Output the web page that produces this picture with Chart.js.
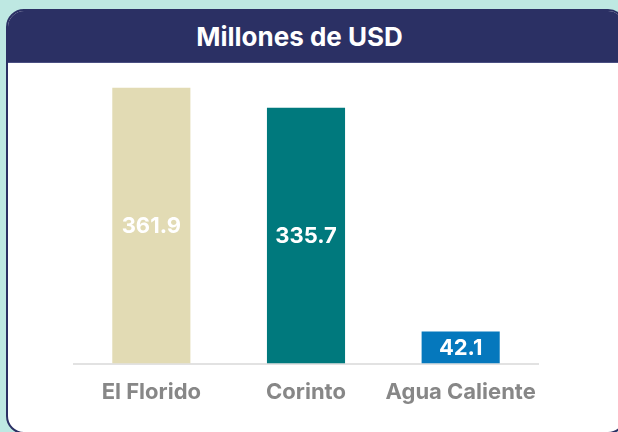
<!DOCTYPE html>
<html>
<head>
<meta charset="utf-8">
<script src="https://cdn.jsdelivr.net/npm/chart.js@4/dist/chart.umd.min.js"></script>
<style>
  html, body { margin: 0; padding: 0; }
  body {
    width: 618px; height: 432px; overflow: hidden;
    background: #bee8e2; position: relative;
    font-family: Inter, "Noto Sans", sans-serif;
  }
  .card {
    position: absolute; left: 6px; top: 9px;
    width: 616px; height: 421px;
    background: #fff; border: 2.5px solid #2b3064;
    border-radius: 18px; overflow: hidden;
  }
  .card-head {
    height: 52px; background: #2b3064; color: #fff;
    font-weight: 700; font-size: 26px; line-height: 52px;
    text-align: center; padding-right: 33px;
    border-bottom: 1px solid #4a4f82; box-sizing: border-box;
  }
  .chart-box {
    position: absolute; left: 0; top: 61px;
    width: 618px; height: 371px;
  }
</style>
</head>
<body>
<div class="card"><div class="card-head">Millones de USD</div></div>
<div class="chart-box"><canvas id="barChart"></canvas></div>
<script>
const categories = ["El Florido", "Corinto", "Agua Caliente"];
const values = [361.9, 335.7, 42.1];
const barColors = ["#e2dbb4", "#00797d", "#0578bd"];

// write each value in the middle of its bar
const barValues = {
  id: "barValues",
  afterDatasetsDraw(chart) {
    const ctx = chart.ctx;
    const meta = chart.getDatasetMeta(0);
    ctx.save();
    ctx.fillStyle = "#ffffff";
    ctx.font = "700 22px Inter, 'Noto Sans', sans-serif";
    ctx.textAlign = "center";
    ctx.textBaseline = "middle";
    meta.data.forEach((bar, i) => {
      const mid = (bar.y + bar.base) / 2;
      ctx.fillText(values[i].toFixed(1), bar.x, mid + 1);
    });
    ctx.restore();
  }
};

new Chart(document.getElementById("barChart"), {
  type: "bar",
  data: {
    labels: categories,
    datasets: [{
      data: values,
      backgroundColor: barColors,
      categoryPercentage: 1,
      barPercentage: 0.505
    }]
  },
  options: {
    responsive: true,
    maintainAspectRatio: false,
    animation: false,
    layout: { padding: { left: 74, right: 80, top: 13, bottom: 18 } },
    plugins: { legend: { display: false }, tooltip: { enabled: false } },
    scales: {
      x: {
        grid: { display: false },
        border: { color: "#e2e2e2", width: 2 },
        ticks: {
          color: "#878787",
          padding: 8,
          autoSkip: false,
          minRotation: 0,
          maxRotation: 0,
          font: { family: "Inter, 'Noto Sans', sans-serif", size: 22, weight: "700" }
        }
      },
      y: {
        display: false,
        min: 0,
        max: 380
      }
    }
  },
  plugins: [barValues]
});
</script>
</body>
</html>
